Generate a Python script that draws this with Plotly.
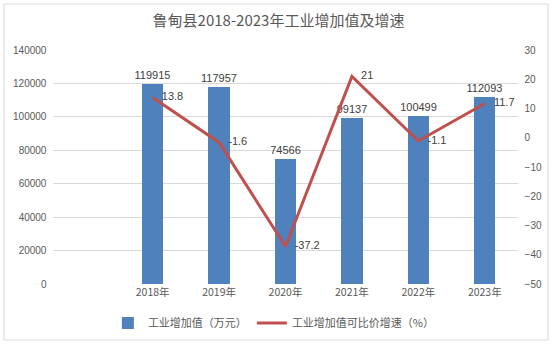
import plotly.graph_objects as go

years = ["2018年", "2019年", "2020年", "2021年", "2022年", "2023年"]
value_added = [119915, 117957, 74566, 99137, 100499, 112093]
growth = [13.8, -1.6, -37.2, 21, -1.1, 11.7]

title_text = "鲁甸县2018-2023年工业增加值及增速"
bar_name = "工业增加值（万元）"
line_name = "工业增加值可比价增速（%）"

font_fam = "Liberation Sans, Noto Sans CJK SC, sans-serif"
cjk_fam = "Noto Sans CJK SC, Liberation Sans, sans-serif"
gray = "#595959"
txt = "#404040"
grid = "#D9D9D9"
pad = "\u00a0\u00a0\u00a0"

fig = go.Figure()
fig.add_trace(go.Bar(
    x=years, y=value_added, name=bar_name,
    marker=dict(color="#4F81BD", line=dict(width=0)),
    width=0.32,
    text=[str(v) for v in value_added], textposition="outside",
    constraintext="none",
    textfont=dict(color=txt, size=11, family=font_fam),
    cliponaxis=False,
))
fig.add_trace(go.Scatter(
    x=years, y=growth, name=line_name, yaxis="y2",
    mode="lines+text",
    line=dict(color="#C0504D", width=3),
    text=[pad + str(v) for v in growth], textposition="middle right",
    textfont=dict(color=txt, size=11, family=font_fam),
    cliponaxis=False,
))

fig.update_layout(
    width=557, height=345,
    margin=dict(l=53, r=39, t=50, b=61, autoexpand=False),
    paper_bgcolor="white", plot_bgcolor="white",
    title=dict(text=title_text, x=0.5, xanchor="center", y=0.94, yanchor="middle",
               font=dict(family=cjk_fam, size=15, color=gray)),
    showlegend=True,
    legend=dict(orientation="h", x=0.475, xanchor="center", yref="container",
                y=(345 - 323) / 345, yanchor="middle",
                font=dict(family=cjk_fam, size=11, color=gray), itemwidth=30),
    xaxis=dict(type="category", range=[-1.5, 5.5], showgrid=False, showline=False,
               ticks="", tickfont=dict(family=cjk_fam, size=10.5, color=gray)),
    yaxis=dict(range=[0, 140000], dtick=20000, tickformat="d", showgrid=True, gridcolor=grid,
               gridwidth=1, zeroline=False, showline=False, ticks="",
               tickfont=dict(family=font_fam, size=10, color=gray), ticksuffix="  "),
    yaxis2=dict(range=[-50, 30], dtick=10, overlaying="y", side="right",
                showgrid=False, zeroline=False, showline=False, ticks="",
                tickfont=dict(family=font_fam, size=10, color=gray), tickprefix="  "),
    bargap=0,
)

fig.add_shape(type="rect", xref="paper", yref="paper",
              x0=(4 - 53) / 465, x1=(548 - 53) / 465,
              y0=(284 - 340) / 234, y1=(284 - 4) / 234,
              line=dict(color=grid, width=1), fillcolor="rgba(0,0,0,0)", layer="below")

fig.write_html("out.html")
